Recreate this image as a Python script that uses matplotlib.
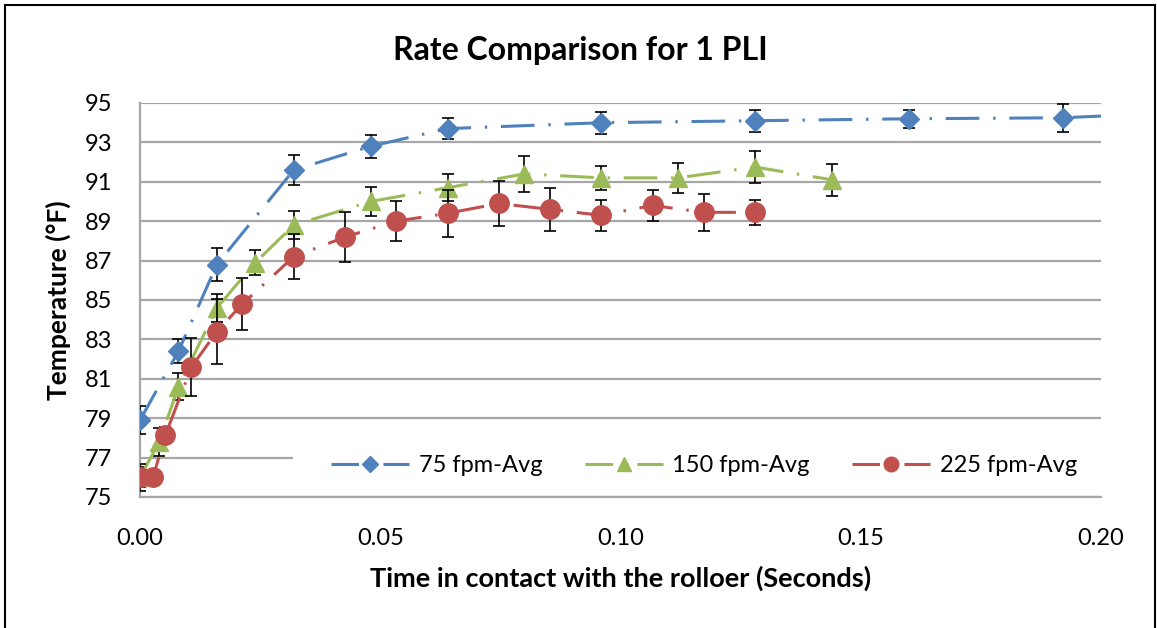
import matplotlib.pyplot as plt
from matplotlib.patches import Rectangle
from matplotlib.lines import Line2D

# data
blue_x = [0, 0.008, 0.016, 0.032, 0.048, 0.064, 0.096, 0.128, 0.160, 0.192, 0.224]
blue_y = [78.9, 82.4, 86.8, 91.6, 92.8, 93.7, 94.0, 94.1, 94.2, 94.25, 94.6]
blue_err = [0.7, 0.6, 0.85, 0.75, 0.6, 0.55, 0.55, 0.55, 0.45, 0.7, 0.6]

green_x = [0, 0.004, 0.008, 0.016, 0.024, 0.032, 0.048, 0.064, 0.080, 0.096, 0.112, 0.128, 0.144]
green_y = [76.0, 77.8, 80.6, 84.6, 86.9, 88.8, 90.0, 90.7, 91.4, 91.2, 91.2, 91.75, 91.1]
green_err = [0.5, 0.7, 0.7, 0.7, 0.65, 0.7, 0.75, 0.7, 0.9, 0.6, 0.75, 0.8, 0.8]

red_x = [0, 0.0027, 0.0053, 0.0107, 0.016, 0.0213, 0.032, 0.0427, 0.0533, 0.064,
         0.0747, 0.0853, 0.096, 0.1067, 0.1173, 0.128]
red_y = [76.0, 76.0, 78.15, 81.6, 83.4, 84.8, 87.2, 88.2, 89.0, 89.4,
         89.9, 89.6, 89.3, 89.8, 89.45, 89.45]
red_err = [0.7, 0.3, 0.4, 1.45, 1.65, 1.3, 1.15, 1.25, 1.0, 1.2,
           1.15, 1.1, 0.8, 0.8, 0.95, 0.65]

labels = ['75 fpm-Avg', '150 fpm-Avg', '225 fpm-Avg']
x_ticks = [0.00, 0.05, 0.10, 0.15, 0.20]
y_ticks = list(range(75, 96, 2))

plt.rcParams['font.family'] = ['Lato', 'DejaVu Sans']

W, H = 1157, 628
fig = plt.figure(figsize=(W / 100, H / 100), dpi=100)
ax = fig.add_axes([140 / W, 1 - 497 / H, 961 / W, 394 / H])

series = [
    (blue_x, blue_y, blue_err, '#4F81BD', 'D', 10.5),
    (green_x, green_y, green_err, '#9BBB59', '^', 13),
    (red_x, red_y, red_err, '#C0504D', 'o', 14),
]
dash = (0, (11, 4.5, 0.8, 4.5))
handles = []
for i, (x, y, e, c, m, ms) in enumerate(series):
    ax.errorbar(x, y, yerr=e, fmt='none', ecolor='black', elinewidth=1.2,
                capsize=4.5, capthick=1.2, zorder=3 + 2 * i)
    ax.plot(x, y, color=c, lw=2.2, ls=dash, marker=m, ms=ms,
            markeredgecolor=c, zorder=4 + 2 * i)
    handles.append(Line2D([], [], color=c, lw=2.2, ls=(0, (9, 3, 2, 3)),
                          marker=m, ms=ms * 0.75, markeredgecolor=c))

ax.set_xlim(0, 0.20)
ax.set_ylim(75, 95)
ax.set_xticks(x_ticks)
ax.set_xticklabels([f'{v:.2f}' for v in x_ticks])
ax.set_yticks(y_ticks)
ax.tick_params(length=0, labelsize=17)
ax.tick_params(axis='x', pad=22)
ax.tick_params(axis='y', pad=20)

ax.set_axisbelow(True)
ax.grid(axis='y', color='#A6A6A6', lw=1.6)
for s in ['top', 'right']:
    ax.spines[s].set_visible(False)
for s in ['left', 'bottom']:
    ax.spines[s].set_color('#A6A6A6')
    ax.spines[s].set_linewidth(1.6)

# white legend box hides part of the gridline
ax.add_patch(Rectangle((0.159, 0.012), 0.841, 0.13, transform=ax.transAxes,
                       facecolor='white', edgecolor='none', zorder=1))
ax.legend(handles, labels, loc='center', bbox_to_anchor=(0.587, 0.079),
          ncol=3, frameon=False, fontsize=17, handlelength=3.3,
          handletextpad=0.4, columnspacing=1.8)

# title is centred on the whole chart, not the plot area
ax.set_title('Rate Comparison for 1 PLI', fontsize=23, fontweight='bold',
             pad=31, x=(580 - 140) / 961)
ax.set_xlabel('Time in contact with the rolloer (Seconds)', fontsize=19.5,
              fontweight='bold', labelpad=12)
ax.set_ylabel('Temperature (°F)', fontsize=19, fontweight='bold', labelpad=10)

# chart border
fig.add_artist(Line2D([5 / W, 5 / W], [0, 1 - 5 / H], color='black', lw=1.5))
fig.add_artist(Line2D([5 / W, 1155 / W], [1 - 5 / H, 1 - 5 / H], color='black', lw=1.5))
fig.add_artist(Line2D([1155 / W, 1155 / W], [0, 1 - 5 / H], color='black', lw=1.5))

fig.savefig('out.png', dpi=100)
